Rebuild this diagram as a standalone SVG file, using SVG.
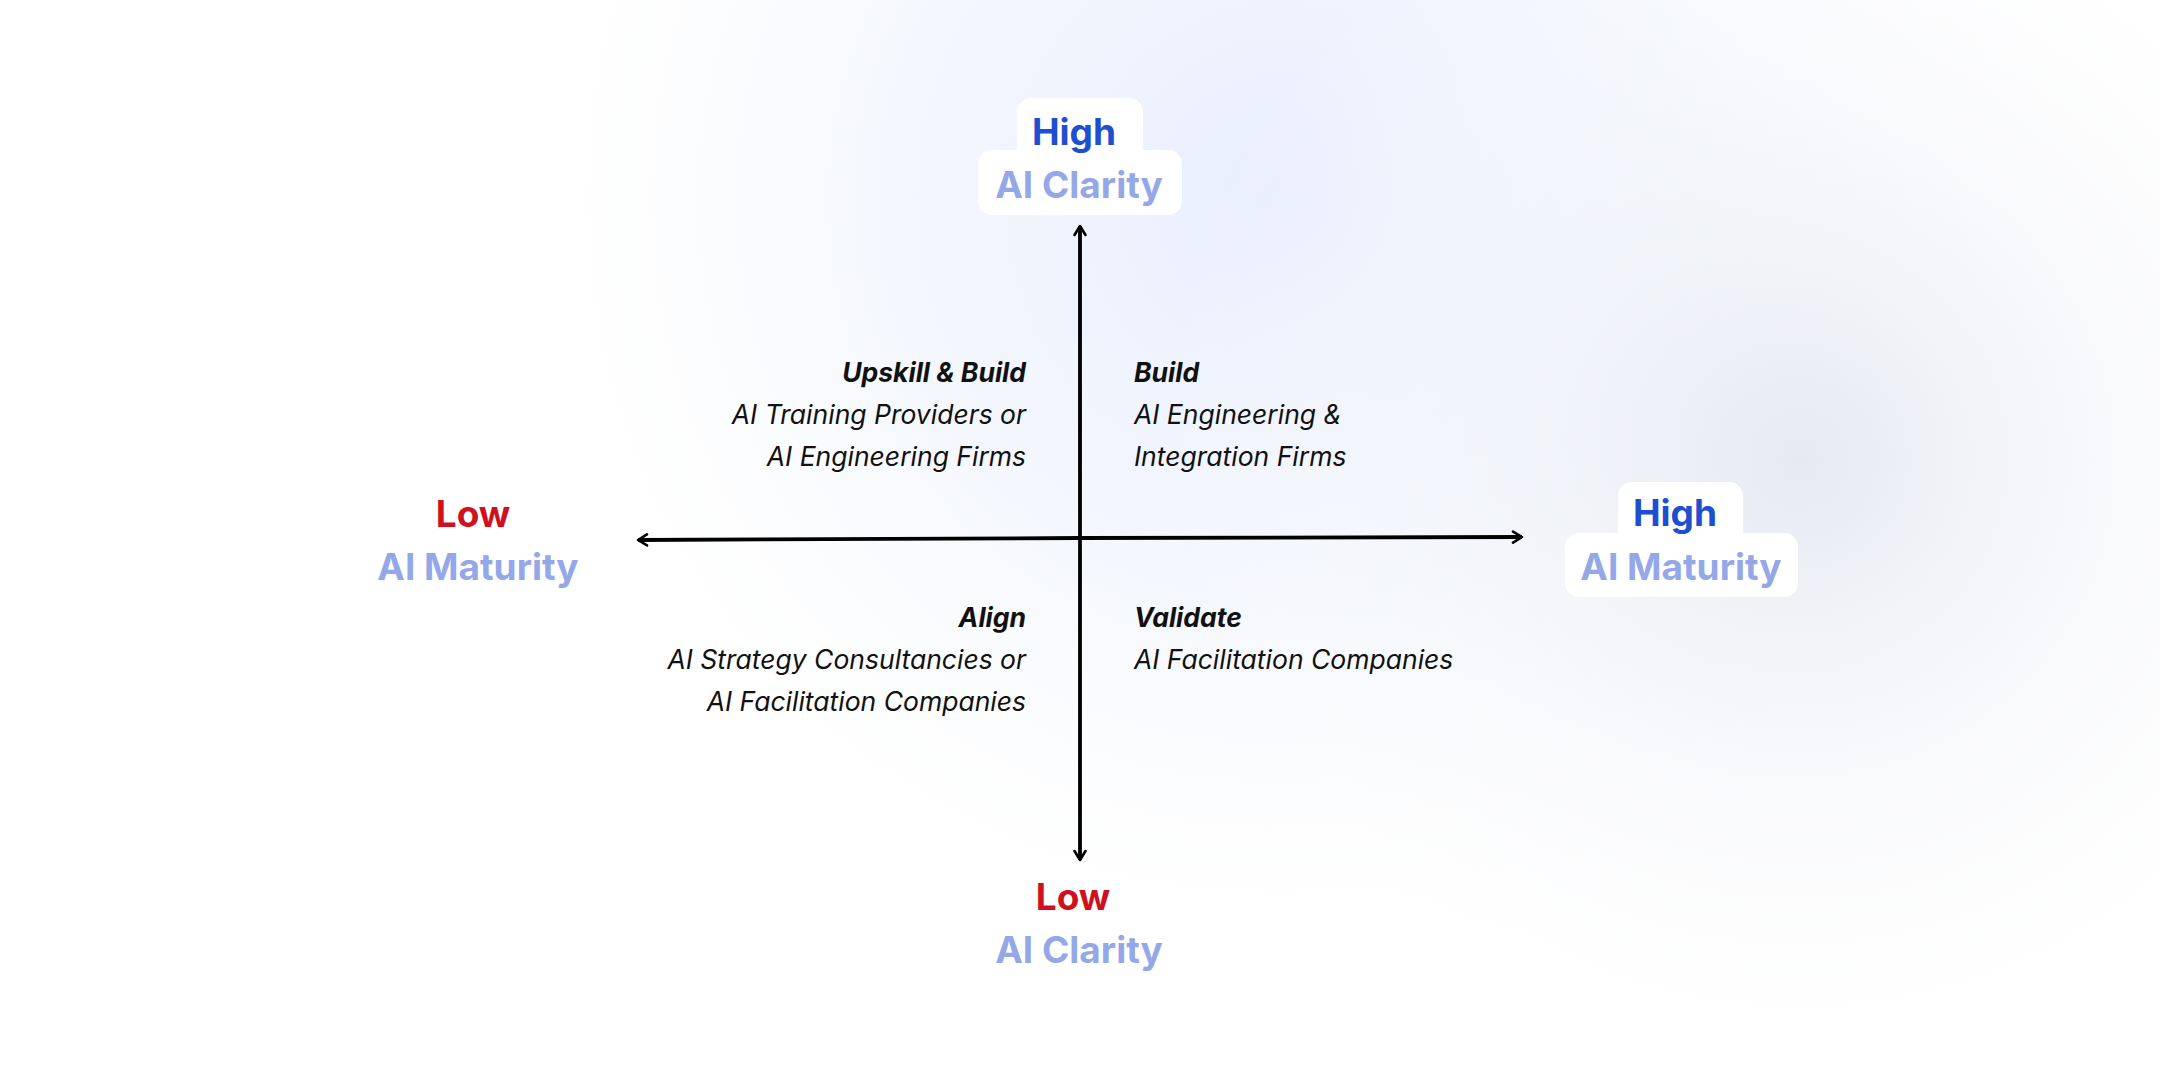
<svg xmlns="http://www.w3.org/2000/svg" width="2160" height="1080" viewBox="0 0 2160 1080">
<defs>
<radialGradient id="g1" cx="1280" cy="200" r="800" gradientUnits="userSpaceOnUse">
<stop offset="0" stop-color="#e8eefd"/><stop offset="0.5" stop-color="#f0f4fd" stop-opacity="0.7"/><stop offset="1" stop-color="#ffffff" stop-opacity="0"/>
</radialGradient>
<radialGradient id="g2" cx="1800" cy="460" r="650" gradientUnits="userSpaceOnUse">
<stop offset="0" stop-color="#e6e9f2"/><stop offset="1" stop-color="#ffffff" stop-opacity="0"/>
</radialGradient>
<marker id="ah" viewBox="0 0 14 14" refX="12" refY="7" markerWidth="14" markerHeight="14" markerUnits="userSpaceOnUse" orient="auto">
<path d="M3,1.5 L12,7 L3,12.5" fill="none" stroke="#000" stroke-width="2.6" stroke-linecap="round" stroke-linejoin="round"/>
</marker>
<style>
.hi{font-family:Inter,"Liberation Sans",sans-serif;font-weight:700;font-size:37px;fill:#1d4fd0;text-anchor:middle}
.lo{font-family:Inter,"Liberation Sans",sans-serif;font-weight:700;font-size:37px;fill:#d0101e;text-anchor:middle}
.ax{font-family:Inter,"Liberation Sans",sans-serif;font-weight:700;font-size:37px;fill:#94a8e8;text-anchor:middle}
.q{font-family:Inter,"Liberation Sans",sans-serif;font-style:italic;font-size:26.5px;fill:#111}
.qb{font-weight:700}
.r{text-anchor:end}
.box{fill:#ffffff}
</style>
</defs>
<rect width="2160" height="1080" fill="#ffffff"/>
<rect width="2160" height="1080" fill="url(#g1)"/>
<rect width="2160" height="1080" fill="url(#g2)"/>
<g id="connectors" stroke="#000" stroke-width="3.8" fill="none">
<line x1="1080" y1="540" x2="1080" y2="226" marker-end="url(#ah)"/>
<line x1="1080" y1="540" x2="1080" y2="860" marker-end="url(#ah)"/>
<line x1="1080" y1="538" x2="638" y2="540" marker-end="url(#ah)"/>
<line x1="1080" y1="538" x2="1522" y2="537" marker-end="url(#ah)"/>
</g>
<g id="top-label">
<rect class="box" x="1017" y="98" width="126" height="80" rx="14"/>
<rect class="box" x="978" y="150" width="204" height="65" rx="14"/>
<text class="hi" x="1074" y="145">High</text>
<text class="ax" x="1079" y="198">AI Clarity</text>
</g>
<g id="right-label">
<rect class="box" x="1618" y="482" width="125" height="80" rx="14"/>
<rect class="box" x="1565" y="533" width="233" height="64" rx="14"/>
<text class="hi" x="1675" y="526">High</text>
<text class="ax" x="1681" y="580">AI Maturity</text>
</g>
<g id="left-label">
<text class="lo" x="473" y="527">Low</text>
<text class="ax" x="478" y="580">AI Maturity</text>
</g>
<g id="bottom-label">
<text class="lo" x="1073" y="910">Low</text>
<text class="ax" x="1079" y="963">AI Clarity</text>
</g>
<g id="q-upper-left">
<text class="q qb r" x="1026" y="382">Upskill &amp; Build</text>
<text class="q r" x="1026" y="424">AI Training Providers or</text>
<text class="q r" x="1026" y="466">AI Engineering Firms</text>
</g>
<g id="q-upper-right">
<text class="q qb" x="1134" y="382">Build</text>
<text class="q" x="1134" y="424">AI Engineering &amp;</text>
<text class="q" x="1134" y="466">Integration Firms</text>
</g>
<g id="q-lower-left">
<text class="q qb r" x="1026" y="627">Align</text>
<text class="q r" x="1026" y="669">AI Strategy Consultancies or</text>
<text class="q r" x="1026" y="711">AI Facilitation Companies</text>
</g>
<g id="q-lower-right">
<text class="q qb" x="1134" y="627">Validate</text>
<text class="q" x="1134" y="669">AI Facilitation Companies</text>
</g>
</svg>
